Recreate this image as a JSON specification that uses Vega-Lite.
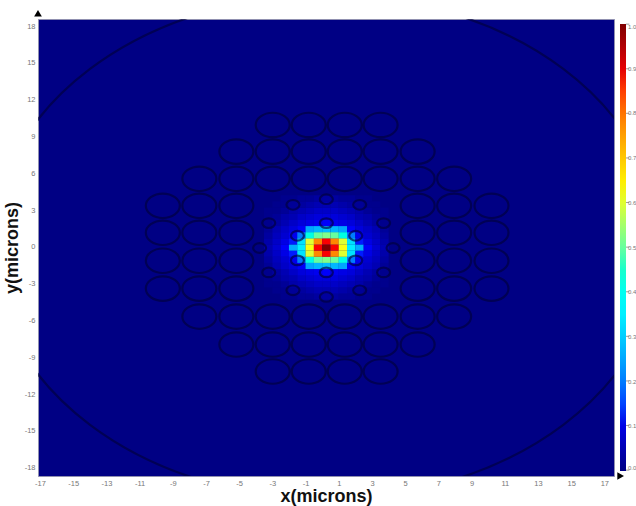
{"$schema":"https://vega.github.io/schema/vega-lite/v6.json","width":576,"height":457,"autosize":"none","padding":{"left":38,"top":19,"right":22,"bottom":30},"background":"white","config":{"view":{"fill":"#000084","stroke":"#9090b0","strokeWidth":1},"font":"Liberation Sans"},
"datasets":{
"heat":[
{"x":-2.25,"y":-4.05,"v":0.01},{"x":-1.75,"y":-4.05,"v":0.01},{"x":-1.25,"y":-4.05,"v":0.02},{"x":-0.75,"y":-4.05,"v":0.02},{"x":-0.25,"y":-4.05,"v":0.03},{"x":0.25,"y":-4.05,"v":0.03},{"x":0.75,"y":-4.05,"v":0.03},{"x":1.25,"y":-4.05,"v":0.02},{"x":1.75,"y":-4.05,"v":0.02},{"x":2.25,"y":-4.05,"v":0.01},{"x":2.75,"y":-4.05,"v":0.01},
{"x":-2.75,"y":-3.55,"v":0.01},{"x":-2.25,"y":-3.55,"v":0.01},{"x":-1.75,"y":-3.55,"v":0.02},{"x":-1.25,"y":-3.55,"v":0.03},{"x":-0.75,"y":-3.55,"v":0.04},{"x":-0.25,"y":-3.55,"v":0.05},{"x":0.25,"y":-3.55,"v":0.05},{"x":0.75,"y":-3.55,"v":0.05},{"x":1.25,"y":-3.55,"v":0.04},{"x":1.75,"y":-3.55,"v":0.03},{"x":2.25,"y":-3.55,"v":0.02},{"x":2.75,"y":-3.55,"v":0.01},{"x":3.25,"y":-3.55,"v":0.01},
{"x":-3.25,"y":-3.05,"v":0.01},{"x":-2.75,"y":-3.05,"v":0.01},{"x":-2.25,"y":-3.05,"v":0.02},{"x":-1.75,"y":-3.05,"v":0.04},{"x":-1.25,"y":-3.05,"v":0.05},{"x":-0.75,"y":-3.05,"v":0.06},{"x":-0.25,"y":-3.05,"v":0.07},{"x":0.25,"y":-3.05,"v":0.07},{"x":0.75,"y":-3.05,"v":0.07},{"x":1.25,"y":-3.05,"v":0.06},{"x":1.75,"y":-3.05,"v":0.05},{"x":2.25,"y":-3.05,"v":0.04},{"x":2.75,"y":-3.05,"v":0.02},{"x":3.25,"y":-3.05,"v":0.01},{"x":3.75,"y":-3.05,"v":0.01},
{"x":-3.25,"y":-2.55,"v":0.01},{"x":-2.75,"y":-2.55,"v":0.02},{"x":-2.25,"y":-2.55,"v":0.04},{"x":-1.75,"y":-2.55,"v":0.05},{"x":-1.25,"y":-2.55,"v":0.07},{"x":-0.75,"y":-2.55,"v":0.08},{"x":-0.25,"y":-2.55,"v":0.09},{"x":0.25,"y":-2.55,"v":0.09},{"x":0.75,"y":-2.55,"v":0.09},{"x":1.25,"y":-2.55,"v":0.08},{"x":1.75,"y":-2.55,"v":0.07},{"x":2.25,"y":-2.55,"v":0.05},{"x":2.75,"y":-2.55,"v":0.04},{"x":3.25,"y":-2.55,"v":0.02},{"x":3.75,"y":-2.55,"v":0.01},
{"x":-3.25,"y":-2.05,"v":0.01},{"x":-2.75,"y":-2.05,"v":0.03},{"x":-2.25,"y":-2.05,"v":0.05},{"x":-1.75,"y":-2.05,"v":0.07},{"x":-1.25,"y":-2.05,"v":0.09},{"x":-0.75,"y":-2.05,"v":0.1},{"x":-0.25,"y":-2.05,"v":0.11},{"x":0.25,"y":-2.05,"v":0.12},{"x":0.75,"y":-2.05,"v":0.11},{"x":1.25,"y":-2.05,"v":0.1},{"x":1.75,"y":-2.05,"v":0.09},{"x":2.25,"y":-2.05,"v":0.07},{"x":2.75,"y":-2.05,"v":0.05},{"x":3.25,"y":-2.05,"v":0.03},{"x":3.75,"y":-2.05,"v":0.01},
{"x":-3.25,"y":-1.55,"v":0.02},{"x":-2.75,"y":-1.55,"v":0.05},{"x":-2.25,"y":-1.55,"v":0.07},{"x":-1.75,"y":-1.55,"v":0.09},{"x":-1.25,"y":-1.55,"v":0.12},{"x":-0.75,"y":-1.55,"v":0.25},{"x":-0.25,"y":-1.55,"v":0.27},{"x":0.25,"y":-1.55,"v":0.28},{"x":0.75,"y":-1.55,"v":0.27},{"x":1.25,"y":-1.55,"v":0.25},{"x":1.75,"y":-1.55,"v":0.12},{"x":2.25,"y":-1.55,"v":0.09},{"x":2.75,"y":-1.55,"v":0.07},{"x":3.25,"y":-1.55,"v":0.05},{"x":3.75,"y":-1.55,"v":0.02},
{"x":-3.25,"y":-1.05,"v":0.03},{"x":-2.75,"y":-1.05,"v":0.06},{"x":-2.25,"y":-1.05,"v":0.08},{"x":-1.75,"y":-1.05,"v":0.11},{"x":-1.25,"y":-1.05,"v":0.2},{"x":-0.75,"y":-1.05,"v":0.42},{"x":-0.25,"y":-1.05,"v":0.5},{"x":0.25,"y":-1.05,"v":0.52},{"x":0.75,"y":-1.05,"v":0.5},{"x":1.25,"y":-1.05,"v":0.42},{"x":1.75,"y":-1.05,"v":0.2},{"x":2.25,"y":-1.05,"v":0.11},{"x":2.75,"y":-1.05,"v":0.08},{"x":3.25,"y":-1.05,"v":0.06},{"x":3.75,"y":-1.05,"v":0.03},
{"x":-3.25,"y":-0.55,"v":0.04},{"x":-2.75,"y":-0.55,"v":0.07},{"x":-2.25,"y":-0.55,"v":0.1},{"x":-1.75,"y":-0.55,"v":0.13},{"x":-1.25,"y":-0.55,"v":0.33},{"x":-0.75,"y":-0.55,"v":0.6},{"x":-0.25,"y":-0.55,"v":0.78},{"x":0.25,"y":-0.55,"v":0.88},{"x":0.75,"y":-0.55,"v":0.78},{"x":1.25,"y":-0.55,"v":0.6},{"x":1.75,"y":-0.55,"v":0.33},{"x":2.25,"y":-0.55,"v":0.13},{"x":2.75,"y":-0.55,"v":0.1},{"x":3.25,"y":-0.55,"v":0.07},{"x":3.75,"y":-0.55,"v":0.04},
{"x":-3.25,"y":-0.05,"v":0.05},{"x":-2.75,"y":-0.05,"v":0.08},{"x":-2.25,"y":-0.05,"v":0.12},{"x":-1.75,"y":-0.05,"v":0.26},{"x":-1.25,"y":-0.05,"v":0.35},{"x":-0.75,"y":-0.05,"v":0.62},{"x":-0.25,"y":-0.05,"v":0.88},{"x":0.25,"y":-0.05,"v":1},{"x":0.75,"y":-0.05,"v":0.88},{"x":1.25,"y":-0.05,"v":0.62},{"x":1.75,"y":-0.05,"v":0.35},{"x":2.25,"y":-0.05,"v":0.26},{"x":2.75,"y":-0.05,"v":0.12},{"x":3.25,"y":-0.05,"v":0.08},{"x":3.75,"y":-0.05,"v":0.05},
{"x":-3.25,"y":0.45,"v":0.04},{"x":-2.75,"y":0.45,"v":0.07},{"x":-2.25,"y":0.45,"v":0.1},{"x":-1.75,"y":0.45,"v":0.13},{"x":-1.25,"y":0.45,"v":0.33},{"x":-0.75,"y":0.45,"v":0.6},{"x":-0.25,"y":0.45,"v":0.78},{"x":0.25,"y":0.45,"v":0.88},{"x":0.75,"y":0.45,"v":0.78},{"x":1.25,"y":0.45,"v":0.6},{"x":1.75,"y":0.45,"v":0.33},{"x":2.25,"y":0.45,"v":0.13},{"x":2.75,"y":0.45,"v":0.1},{"x":3.25,"y":0.45,"v":0.07},{"x":3.75,"y":0.45,"v":0.04},
{"x":-3.25,"y":0.95,"v":0.03},{"x":-2.75,"y":0.95,"v":0.06},{"x":-2.25,"y":0.95,"v":0.08},{"x":-1.75,"y":0.95,"v":0.11},{"x":-1.25,"y":0.95,"v":0.2},{"x":-0.75,"y":0.95,"v":0.42},{"x":-0.25,"y":0.95,"v":0.5},{"x":0.25,"y":0.95,"v":0.52},{"x":0.75,"y":0.95,"v":0.5},{"x":1.25,"y":0.95,"v":0.42},{"x":1.75,"y":0.95,"v":0.2},{"x":2.25,"y":0.95,"v":0.11},{"x":2.75,"y":0.95,"v":0.08},{"x":3.25,"y":0.95,"v":0.06},{"x":3.75,"y":0.95,"v":0.03},
{"x":-3.25,"y":1.45,"v":0.02},{"x":-2.75,"y":1.45,"v":0.05},{"x":-2.25,"y":1.45,"v":0.07},{"x":-1.75,"y":1.45,"v":0.09},{"x":-1.25,"y":1.45,"v":0.12},{"x":-0.75,"y":1.45,"v":0.25},{"x":-0.25,"y":1.45,"v":0.27},{"x":0.25,"y":1.45,"v":0.28},{"x":0.75,"y":1.45,"v":0.27},{"x":1.25,"y":1.45,"v":0.25},{"x":1.75,"y":1.45,"v":0.12},{"x":2.25,"y":1.45,"v":0.09},{"x":2.75,"y":1.45,"v":0.07},{"x":3.25,"y":1.45,"v":0.05},{"x":3.75,"y":1.45,"v":0.02},
{"x":-3.25,"y":1.95,"v":0.01},{"x":-2.75,"y":1.95,"v":0.03},{"x":-2.25,"y":1.95,"v":0.05},{"x":-1.75,"y":1.95,"v":0.07},{"x":-1.25,"y":1.95,"v":0.09},{"x":-0.75,"y":1.95,"v":0.1},{"x":-0.25,"y":1.95,"v":0.11},{"x":0.25,"y":1.95,"v":0.12},{"x":0.75,"y":1.95,"v":0.11},{"x":1.25,"y":1.95,"v":0.1},{"x":1.75,"y":1.95,"v":0.09},{"x":2.25,"y":1.95,"v":0.07},{"x":2.75,"y":1.95,"v":0.05},{"x":3.25,"y":1.95,"v":0.03},{"x":3.75,"y":1.95,"v":0.01},
{"x":-3.25,"y":2.45,"v":0.01},{"x":-2.75,"y":2.45,"v":0.02},{"x":-2.25,"y":2.45,"v":0.04},{"x":-1.75,"y":2.45,"v":0.05},{"x":-1.25,"y":2.45,"v":0.07},{"x":-0.75,"y":2.45,"v":0.08},{"x":-0.25,"y":2.45,"v":0.09},{"x":0.25,"y":2.45,"v":0.09},{"x":0.75,"y":2.45,"v":0.09},{"x":1.25,"y":2.45,"v":0.08},{"x":1.75,"y":2.45,"v":0.07},{"x":2.25,"y":2.45,"v":0.05},{"x":2.75,"y":2.45,"v":0.04},{"x":3.25,"y":2.45,"v":0.02},{"x":3.75,"y":2.45,"v":0.01},
{"x":-3.25,"y":2.95,"v":0.01},{"x":-2.75,"y":2.95,"v":0.01},{"x":-2.25,"y":2.95,"v":0.02},{"x":-1.75,"y":2.95,"v":0.04},{"x":-1.25,"y":2.95,"v":0.05},{"x":-0.75,"y":2.95,"v":0.06},{"x":-0.25,"y":2.95,"v":0.07},{"x":0.25,"y":2.95,"v":0.07},{"x":0.75,"y":2.95,"v":0.07},{"x":1.25,"y":2.95,"v":0.06},{"x":1.75,"y":2.95,"v":0.05},{"x":2.25,"y":2.95,"v":0.04},{"x":2.75,"y":2.95,"v":0.02},{"x":3.25,"y":2.95,"v":0.01},{"x":3.75,"y":2.95,"v":0.01},
{"x":-2.75,"y":3.45,"v":0.01},{"x":-2.25,"y":3.45,"v":0.01},{"x":-1.75,"y":3.45,"v":0.02},{"x":-1.25,"y":3.45,"v":0.03},{"x":-0.75,"y":3.45,"v":0.04},{"x":-0.25,"y":3.45,"v":0.05},{"x":0.25,"y":3.45,"v":0.05},{"x":0.75,"y":3.45,"v":0.05},{"x":1.25,"y":3.45,"v":0.04},{"x":1.75,"y":3.45,"v":0.03},{"x":2.25,"y":3.45,"v":0.02},{"x":2.75,"y":3.45,"v":0.01},{"x":3.25,"y":3.45,"v":0.01},
{"x":-2.25,"y":3.95,"v":0.01},{"x":-1.75,"y":3.95,"v":0.01},{"x":-1.25,"y":3.95,"v":0.02},{"x":-0.75,"y":3.95,"v":0.02},{"x":-0.25,"y":3.95,"v":0.03},{"x":0.25,"y":3.95,"v":0.03},{"x":0.75,"y":3.95,"v":0.03},{"x":1.25,"y":3.95,"v":0.02},{"x":1.75,"y":3.95,"v":0.02},{"x":2.25,"y":3.95,"v":0.01},{"x":2.75,"y":3.95,"v":0.01}
],
"big":[
{"x":-2.98,"y":9.94},{"x":-0.81,"y":9.94},{"x":1.36,"y":9.94},{"x":3.52,"y":9.94},
{"x":-5.17,"y":7.77},{"x":-2.98,"y":7.77},{"x":-0.81,"y":7.77},{"x":1.36,"y":7.77},{"x":3.52,"y":7.77},{"x":5.75,"y":7.77},
{"x":-7.4,"y":5.55},{"x":-5.17,"y":5.55},{"x":-2.98,"y":5.55},{"x":-0.81,"y":5.55},{"x":1.36,"y":5.55},{"x":3.52,"y":5.55},{"x":5.75,"y":5.55},{"x":7.95,"y":5.55},
{"x":-9.6,"y":3.35},{"x":-7.4,"y":3.35},{"x":-5.17,"y":3.35},{"x":5.75,"y":3.35},{"x":7.95,"y":3.35},{"x":10.2,"y":3.35},
{"x":-9.6,"y":1.15},{"x":-7.4,"y":1.15},{"x":-5.17,"y":1.15},{"x":5.75,"y":1.15},{"x":7.95,"y":1.15},{"x":10.2,"y":1.15},
{"x":-9.6,"y":-1.13},{"x":-7.4,"y":-1.13},{"x":-5.17,"y":-1.13},{"x":5.75,"y":-1.13},{"x":7.95,"y":-1.13},{"x":10.2,"y":-1.13},
{"x":-9.6,"y":-3.4},{"x":-7.4,"y":-3.4},{"x":-5.17,"y":-3.4},{"x":5.75,"y":-3.4},{"x":7.95,"y":-3.4},{"x":10.2,"y":-3.4},
{"x":-7.4,"y":-5.68},{"x":-5.17,"y":-5.68},{"x":-2.98,"y":-5.68},{"x":-0.81,"y":-5.68},{"x":1.36,"y":-5.68},{"x":3.52,"y":-5.68},{"x":5.75,"y":-5.68},{"x":7.95,"y":-5.68},
{"x":-5.17,"y":-7.96},{"x":-2.98,"y":-7.96},{"x":-0.81,"y":-7.96},{"x":1.36,"y":-7.96},{"x":3.52,"y":-7.96},{"x":5.75,"y":-7.96},
{"x":-2.98,"y":-10.16},{"x":-0.81,"y":-10.16},{"x":1.36,"y":-10.16},{"x":3.52,"y":-10.16}
],
"small":[
{"x":0.25,"y":3.89},{"x":-1.76,"y":3.43},{"x":2.26,"y":3.43},{"x":-3.22,"y":1.94},{"x":0.25,"y":1.94},{"x":3.7,"y":1.94},{"x":-1.49,"y":0.91},{"x":2.02,"y":0.91},{"x":-3.77,"y":-0.09},{"x":4.27,"y":-0.09},{"x":-1.49,"y":-1.1},{"x":2.02,"y":-1.1},{"x":-3.22,"y":-2.08},{"x":0.25,"y":-2.08},{"x":3.7,"y":-2.08},{"x":-1.76,"y":-3.54},{"x":2.26,"y":-3.54},{"x":0.25,"y":-4.08}
],
"outer":[{"x":0.27,"y":0}],
"arrows":[{"x":-17.12,"y":19.05,"k":"y"},{"x":17.98,"y":-18.68,"k":"x"}],
"bar":[{"x":18.4,"y":-18.2},{"x":18.4,"y":-14.56},{"x":18.4,"y":-10.93},{"x":18.4,"y":-7.29},{"x":18.4,"y":-3.66},{"x":18.4,"y":-0.02},{"x":18.4,"y":3.62},{"x":18.4,"y":7.25},{"x":18.4,"y":10.89},{"x":18.4,"y":14.52},{"x":18.4,"y":18.16}]
},
"encoding":{
"x":{"field":"x","type":"quantitative","scale":{"domain":[-17.12,17.58],"nice":false,"zero":false},"axis":{"values":[-17,-15,-13,-11,-9,-7,-5,-3,-1,1,3,5,7,9,11,13,15,17],"labelExpr":"'' + datum.value","title":"x(microns)","titleFont":"Liberation Sans","titleFontSize":18,"titleFontWeight":"bold","titleColor":"#111111","titlePadding":1,"labelColor":"#777777","labelFontSize":7.5,"labelPadding":3,"ticks":false,"domain":false,"grid":false,"labelOverlap":false}},
"y":{"field":"y","type":"quantitative","scale":{"domain":[-18.68,18.58],"nice":false,"zero":false},"axis":{"values":[-18,-15,-12,-9,-6,-3,0,3,6,9,12,15,18],"labelExpr":"'' + datum.value","title":"y(microns)","titleFont":"Liberation Sans","titleFontSize":18,"titleFontWeight":"bold","titleColor":"#111111","titleX":-17,"labelColor":"#777777","labelFontSize":7.5,"labelPadding":3,"ticks":false,"domain":false,"grid":false,"labelOverlap":false}}
},
"layer":[
{"data":{"name":"heat"},"mark":{"type":"rect","width":8.4,"height":6.3},"encoding":{"color":{"field":"v","type":"quantitative","scale":{"domain":[0,0.125,0.375,0.625,0.875,1],"range":["#000084","#0000ff","#00ffff","#ffff00","#ff0000","#800000"]},"legend":{"title":null,"orient":"none","legendX":582,"legendY":5,"gradientLength":447,"gradientThickness":6,"values":[0,0.1,0.2,0.3,0.4,0.5,0.6,0.7,0.8,0.9,1],"format":".1f","labelFont":"Liberation Sans","labelFontSize":6,"labelColor":"#777777","labelOffset":2,"labelOverlap":false,"gradientStrokeWidth":0}}}},
{"data":{"name":"big"},"mark":{"type":"point","shape":"M-1,0A1,0.72,0,1,0,1,0A1,0.72,0,1,0,-1,0Z","size":1156,"filled":false,"stroke":"#00003c","strokeWidth":2.2,"opacity":0.65}},
{"data":{"name":"small"},"mark":{"type":"point","shape":"M-1,0A1,0.74,0,1,0,1,0A1,0.74,0,1,0,-1,0Z","size":169,"filled":false,"stroke":"#00003c","strokeWidth":2.2,"opacity":0.65}},
{"data":{"name":"outer"},"mark":{"type":"point","shape":"M-1,0A1,0.752,0,1,0,1,0A1,0.752,0,1,0,-1,0Z","size":448000,"filled":false,"stroke":"#00003c","strokeWidth":2.2,"opacity":0.65,"clip":true}},
{"data":{"name":"arrows"},"mark":{"type":"point","filled":true,"size":60,"opacity":1,"clip":false,"color":"black"},"encoding":{"shape":{"field":"k","type":"nominal","scale":{"domain":["y","x"],"range":["triangle-up","triangle-right"]},"legend":null}}},
{"data":{"name":"bar"},"mark":{"type":"point","shape":"M-1,0L1,0","size":12,"filled":false,"stroke":"#777777","strokeWidth":1,"clip":false}}
]
}
